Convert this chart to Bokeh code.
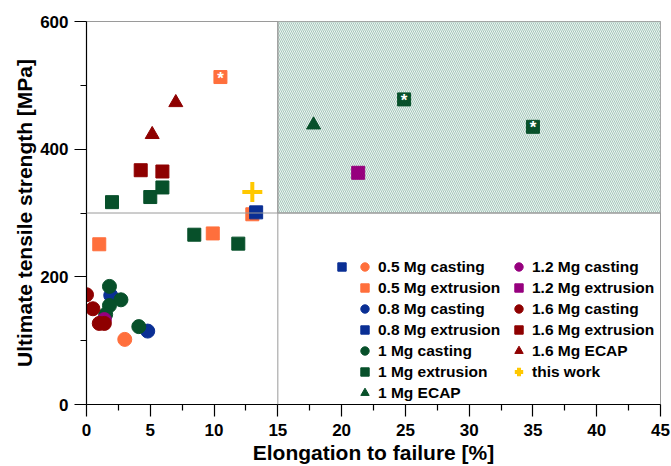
from bokeh.plotting import figure
from bokeh.models import FixedTicker, Legend, LegendItem, Span
from bokeh.embed import file_html
from bokeh.resources import INLINE

# ---- data: elongation to failure [%] and ultimate tensile strength [MPa] ----
cast05_x = [3.0]
cast05_y = [102]
ext05_x = [1.0, 9.9, 13.0, 10.5]
ext05_y = [251, 268, 298, 513]
ext05_star = [False, False, False, True]

cast08_x = [1.9, 4.8]
cast08_y = [171, 115]
ext08_x = [13.3]
ext08_y = [301]

cast1_x = [1.8, 2.7, 1.8, 1.5, 4.1]
cast1_y = [185, 164, 155, 141, 122]
ext1_x = [2.0, 5.0, 5.95, 8.45, 11.9, 24.9, 35.0]
ext1_y = [317, 325, 340, 266, 252, 478, 435]
ext1_star = [False, False, False, False, False, True, True]
ecap1_x = [17.8]
ecap1_y = [438]

cast12_x = [1.4]
cast12_y = [133]
ext12_x = [21.3]
ext12_y = [363]

cast16_x = [0.0, 0.5, 1.0, 1.4]
cast16_y = [172, 150, 127, 127]
ext16_x = [4.25, 5.95]
ext16_y = [367, 365]
ecap16_x = [5.15, 7.0]
ecap16_y = [423, 473]

this_x = [13.0]
this_y = [333]

x_ticks = [0, 5, 10, 15, 20, 25, 30, 35, 40, 45]
x_minor = [2.5, 7.5, 12.5, 17.5, 22.5, 27.5, 32.5, 37.5, 42.5]
y_ticks = [0, 200, 400, 600]
y_minor = [100, 300, 500]

# target region: elongation > 15 %, strength > 300 MPa
target_x = [15, 45]
target_y = [300, 600]

ORANGE = "#FF6F3C"
BLUE = "#0A2F94"
GREEN = "#07502A"
PURPLE = "#96007E"
RED = "#8E0000"
YELLOW = "#FFC800"
FONT = "Liberation Sans"

p = figure(width=671, height=466, output_backend="svg", toolbar_location=None,
           x_range=(0, 45), y_range=(0, 600),
           min_border_left=86, min_border_right=11, min_border_top=21,
           min_border_bottom=62)
p.background_fill_color = "white"
p.border_fill_color = "white"
p.outline_line_color = "#9A9A9A"
p.outline_line_width = 1
p.grid.visible = False

# hatched target window
p.quad(left=[target_x[0]], right=[target_x[1]], bottom=[target_y[0]], top=[target_y[1]],
       fill_color="#EDF4F1", line_color="#9A9A9A", line_width=1,
       hatch_pattern="\\", hatch_color="#A6C8BC", hatch_scale=4, hatch_weight=1)

p.add_layout(Span(location=target_x[0], dimension="height", line_color="#9A9A9A", line_width=1))
p.add_layout(Span(location=target_y[0], dimension="width", line_color="#9A9A9A", line_width=1))

CS = 14   # circle size
SS = 13   # square size
TS = 14   # triangle size

r_c05 = p.scatter(cast05_x, cast05_y, marker="circle", size=CS, color=ORANGE)
r_e05 = p.scatter(ext05_x, ext05_y, marker="square", size=SS, color=ORANGE)
r_c08 = p.scatter(cast08_x, cast08_y, marker="circle", size=CS, color=BLUE)
r_e08 = p.scatter(ext08_x, ext08_y, marker="square", size=SS, color=BLUE)
r_c1 = p.scatter(cast1_x, cast1_y, marker="circle", size=CS, color=GREEN)
r_e1 = p.scatter(ext1_x, ext1_y, marker="square", size=SS, color=GREEN)
r_a1 = p.scatter(ecap1_x, ecap1_y, marker="triangle", size=TS, color=GREEN)
r_c12 = p.scatter(cast12_x, cast12_y, marker="circle", size=CS, color=PURPLE)
r_e12 = p.scatter(ext12_x, ext12_y, marker="square", size=SS, color=PURPLE)
r_c16 = p.scatter(cast16_x, cast16_y, marker="circle", size=CS, color=RED)
r_e16 = p.scatter(ext16_x, ext16_y, marker="square", size=SS, color=RED)
r_a16 = p.scatter(ecap16_x, ecap16_y, marker="triangle", size=TS, color=RED)
r_tw = p.scatter(this_x, this_y, marker="cross", size=20, line_color=YELLOW, line_width=4)

# white asterisks on the flagged extrusion results
star_x = [x for x, s in zip(ext05_x, ext05_star) if s] + [x for x, s in zip(ext1_x, ext1_star) if s]
star_y = [y for y, s in zip(ext05_y, ext05_star) if s] + [y for y, s in zip(ext1_y, ext1_star) if s]
p.text(x=star_x, y=star_y, text=["*"] * len(star_x), text_color="white",
       text_font_size="17px", text_font_style="bold", text_align="center",
       text_baseline="middle", y_offset=1, text_font={"value": FONT})

# axes
for ax in (p.xaxis[0], p.yaxis[0]):
    ax.axis_line_color = "black"
    ax.axis_line_width = 1.2
    ax.major_tick_line_color = "black"
    ax.minor_tick_line_color = "black"
    ax.major_tick_line_width = 1.2
    ax.minor_tick_line_width = 1.2
    ax.major_tick_in = 0
    ax.minor_tick_in = 0
    ax.major_tick_out = 12
    ax.minor_tick_out = 6
    ax.major_label_text_font = FONT
    ax.major_label_text_font_style = "bold"
    ax.major_label_text_font_size = "17px"
    ax.major_label_text_color = "black"
    ax.axis_label_text_font = FONT
    ax.axis_label_text_font_style = "bold"
    ax.axis_label_text_font_size = "21px"
    ax.axis_label_text_color = "black"

p.xaxis.ticker = FixedTicker(ticks=x_ticks, minor_ticks=x_minor)
p.yaxis.ticker = FixedTicker(ticks=y_ticks, minor_ticks=y_minor)
p.xaxis.axis_label = "Elongation to failure [%]"
p.yaxis.axis_label = "Ultimate tensile strength [MPa]"
p.xaxis.major_label_standoff = 7
p.yaxis.major_label_standoff = 6
p.xaxis.axis_label_standoff = 2
p.yaxis.axis_label_standoff = 1


def make_legend(items, loc):
    return Legend(items=items, location=loc, orientation="vertical",
                  glyph_width=21, glyph_height=21, label_height=21, spacing=0,
                  padding=0, margin=0, label_standoff=3,
                  background_fill_alpha=0, border_line_alpha=0,
                  label_text_font=FONT, label_text_font_style="bold",
                  label_text_font_size="15.5px", label_text_color="black")


legend_a = make_legend([
    LegendItem(label="0.5 Mg casting", renderers=[r_c05]),
    LegendItem(label="0.5 Mg extrusion", renderers=[r_e05]),
    LegendItem(label="0.8 Mg casting", renderers=[r_c08]),
    LegendItem(label="0.8 Mg extrusion", renderers=[r_e08]),
    LegendItem(label="1 Mg casting", renderers=[r_c1]),
    LegendItem(label="1 Mg extrusion", renderers=[r_e1]),
    LegendItem(label="1 Mg ECAP", renderers=[r_a1]),
], (268, 1))
legend_b = make_legend([
    LegendItem(label="1.2 Mg casting", renderers=[r_c12]),
    LegendItem(label="1.2 Mg extrusion", renderers=[r_e12]),
    LegendItem(label="1.6 Mg casting", renderers=[r_c16]),
    LegendItem(label="1.6 Mg extrusion", renderers=[r_e16]),
    LegendItem(label="1.6 Mg ECAP", renderers=[r_a16]),
    LegendItem(label="this work", renderers=[r_tw]),
], (422, 22))
legend_c = make_legend([
    LegendItem(label=" ", renderers=[r_e08]),
], (245, 127))
for lg in (legend_a, legend_b, legend_c):
    p.add_layout(lg, "center")

open("out.html", "w").write(file_html(p, INLINE))
